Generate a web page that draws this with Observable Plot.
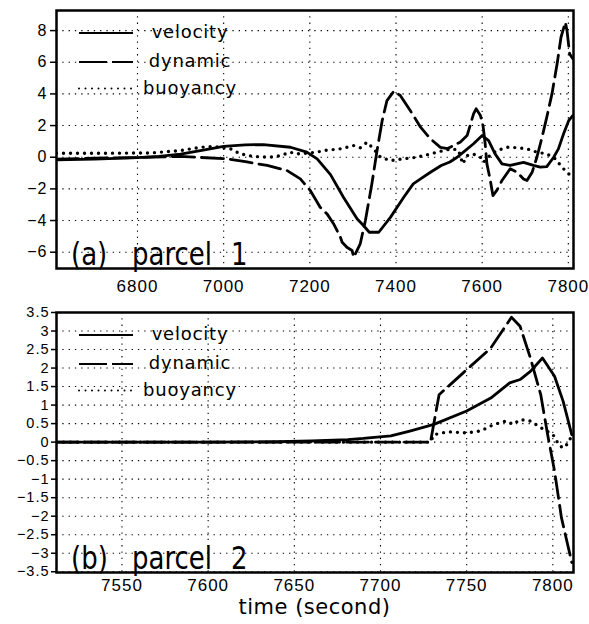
<!DOCTYPE html>
<html><head><meta charset="utf-8">
<script src="https://cdn.jsdelivr.net/npm/d3@7"></script>
<script src="https://cdn.jsdelivr.net/npm/@observablehq/plot@0.6"></script>
<style>
html,body{margin:0;padding:0;background:#fff;}
#chart{width:589px;}
#chart svg{display:block;}
#chart g[aria-label$="tick label"] text{letter-spacing:1px;}
</style></head><body><div id="chart"></div>
<script>
// ---------- series names ----------
const seriesNames = ["velocity", "dynamic", "buoyancy"];

// ---------- panel (a) parcel 1 ----------
const velTimeA = [6612,6700,6800,6850,6900,6946,7000,7050,7092,7155,7193,7217,7248,7278,7310,7324,7338,7360,7387,7418,7440,7457,7480,7505,7525,7542,7560,7580,7600,7615,7630,7646,7665,7696,7719,7735,7750,7766,7777,7789,7801,7811];
const velValueA = [-0.17,-0.12,-0.03,0.05,0.2,0.42,0.68,0.78,0.8,0.63,0.32,-0.1,-1.1,-2.53,-3.9,-4.3,-4.74,-4.74,-3.8,-2.53,-1.68,-1.37,-0.95,-0.52,-0.3,0,0.4,0.85,1.37,1.05,0.21,-0.42,-0.52,-0.32,-0.52,-0.63,-0.59,0,0.53,1.48,2.32,2.65];

const dynTimeA = [6612,6700,6800,6900,7008,7054,7101,7147,7178,7201,7224,7240,7255,7271,7275,7286,7298,7302,7317,7329,7344,7356,7368,7379,7395,7410,7433,7457,7480,7503,7520,7549,7565,7572,7580,7586,7596,7602,7607,7611,7619,7625,7634,7646,7665,7681,7696,7704,7716,7727,7739,7750,7762,7774,7783,7793,7797,7803,7811];
const dynValueA = [-0.12,-0.06,-0.02,0.05,-0.1,-0.3,-0.52,-0.84,-1.37,-2.1,-3.16,-3.58,-4.2,-5.05,-5.37,-5.69,-5.89,-6.32,-5.47,-4.0,-1.68,0.42,2.32,3.58,4.17,3.9,2.95,1.9,1.16,0.62,0.55,0.95,1.37,2.0,2.74,3.06,2.63,2.0,0.85,-0.42,-1.47,-2.42,-2.1,-1.47,-0.73,-0.95,-1.37,-1.47,-0.95,0,1.26,2.53,4.0,5.9,7.58,8.53,8.0,6.53,6.2];

const buoyTimeA = [6612,6700,6830,6900,6946,6976,7016,7039,7069,7108,7132,7155,7167,7190,7217,7231,7271,7301,7317,7333,7348,7364,7387,7417,7449,7480,7510,7530,7545,7555,7565,7579,7596,7603,7618,7634,7658,7681,7704,7727,7750,7770,7785,7801,7811];
const buoyValueA = [0.25,0.25,0.27,0.42,0.63,0.68,0.53,0.21,0.05,0,0.1,0.32,0.21,0.25,0.32,0.42,0.53,0.74,0.6,0.95,0.53,0,-0.21,-0.1,0,0.21,0.42,0.53,0.45,-0.42,0.1,0.21,0,-0.32,0.1,0.42,0.63,0.6,0.53,0.32,0.21,-0.1,-0.63,-1.05,-1.25];

const xTicksA = [6800,7000,7200,7400,7600,7800];
const yTicksA = [-6,-4,-2,0,2,4,6,8];

// ---------- panel (b) parcel 2 ----------
const velTimeB = [7512,7600,7640,7660,7681,7690,7706,7717,7731,7750,7764,7775,7781,7787,7794,7801,7806,7811];
const velValueB = [0,0,0.01,0.03,0.07,0.1,0.17,0.3,0.48,0.84,1.19,1.6,1.69,1.91,2.27,1.78,1.1,0.2];

const dynTimeB = [7512,7729,7734,7748,7764,7776,7781,7787,7793,7797,7801,7805,7811];
const dynValueB = [0,0,1.28,1.87,2.54,3.37,3.13,2.27,1.28,0.2,-0.78,-2.04,-3.25];

const buoyTimeB = [7512,7729,7731,7739,7750,7758,7766,7773,7777,7781,7787,7793,7800,7804,7807,7811];
const buoyValueB = [0,0,0.2,0.28,0.25,0.3,0.48,0.57,0.48,0.61,0.57,0.39,0.21,-0.11,-0.15,0.16];

const xTicksB = [7550,7600,7650,7700,7750,7800];
const yTicksB = [-3.5,-3,-2.5,-2,-1.5,-1,-0.5,0,0.5,1,1.5,2,2.5,3,3.5];

const panelLabels = [["(a)", "parcel", "1"], ["(b)", "parcel", "2"]];
const xLabel = "time (second)";

// ---------- styles ----------
const TICKFONT = "'Liberation Sans', Arial, sans-serif";
const GEOFONT = "'DejaVu Sans', sans-serif";
const fmt = d => (d < 0 ? "\u2212" : "") + Math.abs(d);
const gridStyle = {stroke: "black", strokeOpacity: 1, strokeWidth: 1.1, strokeDasharray: "1.3,5"};
const lineStyles = [
  {stroke: "black", strokeWidth: 2.8},
  {stroke: "black", strokeWidth: 2.8, strokeDasharray: "22,7"},
  {stroke: "black", strokeWidth: 3.4, strokeDasharray: "0,7", strokeLinecap: "round"}
];
const legendStyles = [
  {w: 2.2, dash: null, cap: "butt"},
  {w: 2.2, dash: "28,5", cap: "butt"},
  {w: 2, dash: "0,6.5", cap: "round"}
];

function decor(labels, withXLabel) {
  return (index, scales, values, dim) => {
    const g = d3.create("svg:g");
    const L = dim.marginLeft, T = dim.marginTop;
    const B = dim.height - dim.marginBottom;
    const R = dim.width - dim.marginRight;
    const rowOffsets = [23, 52, 78.5];
    seriesNames.forEach((name, i) => {
      const y = T + rowOffsets[i];
      const s = legendStyles[i];
      g.append("line")
        .attr("x1", L + 23).attr("x2", L + 77).attr("y1", y).attr("y2", y)
        .attr("stroke", "black").attr("stroke-width", s.w)
        .attr("stroke-dasharray", s.dash).attr("stroke-linecap", s.cap);
      g.append("text")
        .attr("x", L + 134).attr("y", y + 5)
        .attr("text-anchor", "middle")
        .attr("font-family", GEOFONT).attr("font-size", 18)
        .style("letter-spacing", "0.8px")
        .attr("fill", "black")
        .text(name);
    });
    const lx = [L + 15, L + 76, L + 175];
    labels.forEach((t, i) => {
      g.append("text")
        .attr("transform", `translate(${lx[i]},${B - 3}) scale(1,1.2)`)
        .attr("text-anchor", "start")
        .attr("font-family", GEOFONT).attr("font-size", 26)
        .attr("fill", "black")
        .text(t);
    });
    if (withXLabel) {
      g.append("text")
        .attr("x", (L + R) / 2).attr("y", B + 42)
        .attr("text-anchor", "middle")
        .attr("font-family", GEOFONT).attr("font-size", 21)
        .style("letter-spacing", "0.5px")
        .attr("fill", "black")
        .text(xLabel);
    }
    return g.node();
  };
}

function panel(cfg) {
  return Plot.plot({
    width: 589, height: cfg.height,
    marginTop: cfg.mt, marginBottom: cfg.mb, marginLeft: 56, marginRight: 16,
    style: {fontFamily: TICKFONT, fontSize: cfg.fs + "px", background: "white", color: "black"},
    x: {domain: cfg.xDomain},
    y: {domain: cfg.yDomain},
    marks: [
      Plot.gridX(cfg.xTicks, gridStyle),
      Plot.gridY(cfg.yTicks, gridStyle),
      Plot.line(cfg.series[2].v, {x: cfg.series[2].t, y: cfg.series[2].v, ...lineStyles[2], clip: true}),
      Plot.line(cfg.series[1].v, {x: cfg.series[1].t, y: cfg.series[1].v, ...lineStyles[1], clip: true}),
      Plot.line(cfg.series[0].v, {x: cfg.series[0].t, y: cfg.series[0].v, ...lineStyles[0], clip: true}),
      Plot.axisY({ticks: cfg.yTicks, tickSize: cfg.yTickSize, tickPadding: cfg.yTickPad, tickFormat: fmt, label: null, strokeWidth: 1.5, fontSize: cfg.yfs}),
      Plot.axisX({ticks: cfg.xTicks, tickSize: 0, tickPadding: cfg.xTickPad, tickFormat: d => String(d), label: null, fontSize: 17}),
      Plot.frame({stroke: "black", strokeWidth: 2.5}),
      decor(cfg.labels, cfg.withXLabel)
    ]
  });
}

const chart = document.getElementById("chart");
chart.append(panel({
  height: 300, mt: 10, mb: 32, fs: 16, yfs: 16,
  xDomain: [6612, 7812], yDomain: [-7.03, 9.27],
  xTicks: xTicksA, yTicks: yTicksA,
  yTickSize: 6, yTickPad: 3, xTickPad: 11,
  series: [{t: velTimeA, v: velValueA}, {t: dynTimeA, v: dynValueA}, {t: buoyTimeA, v: buoyValueA}],
  labels: panelLabels[0], withXLabel: false
}));
chart.append(panel({
  height: 324, mt: 12, mb: 52, fs: 15, yfs: 14.5,
  xDomain: [7512, 7812], yDomain: [-3.52, 3.5],
  xTicks: xTicksB, yTicks: yTicksB,
  yTickSize: 5, yTickPad: 2, xTickPad: 6,
  series: [{t: velTimeB, v: velValueB}, {t: dynTimeB, v: dynValueB}, {t: buoyTimeB, v: buoyValueB}],
  labels: panelLabels[1], withXLabel: true
}));
</script></body></html>
